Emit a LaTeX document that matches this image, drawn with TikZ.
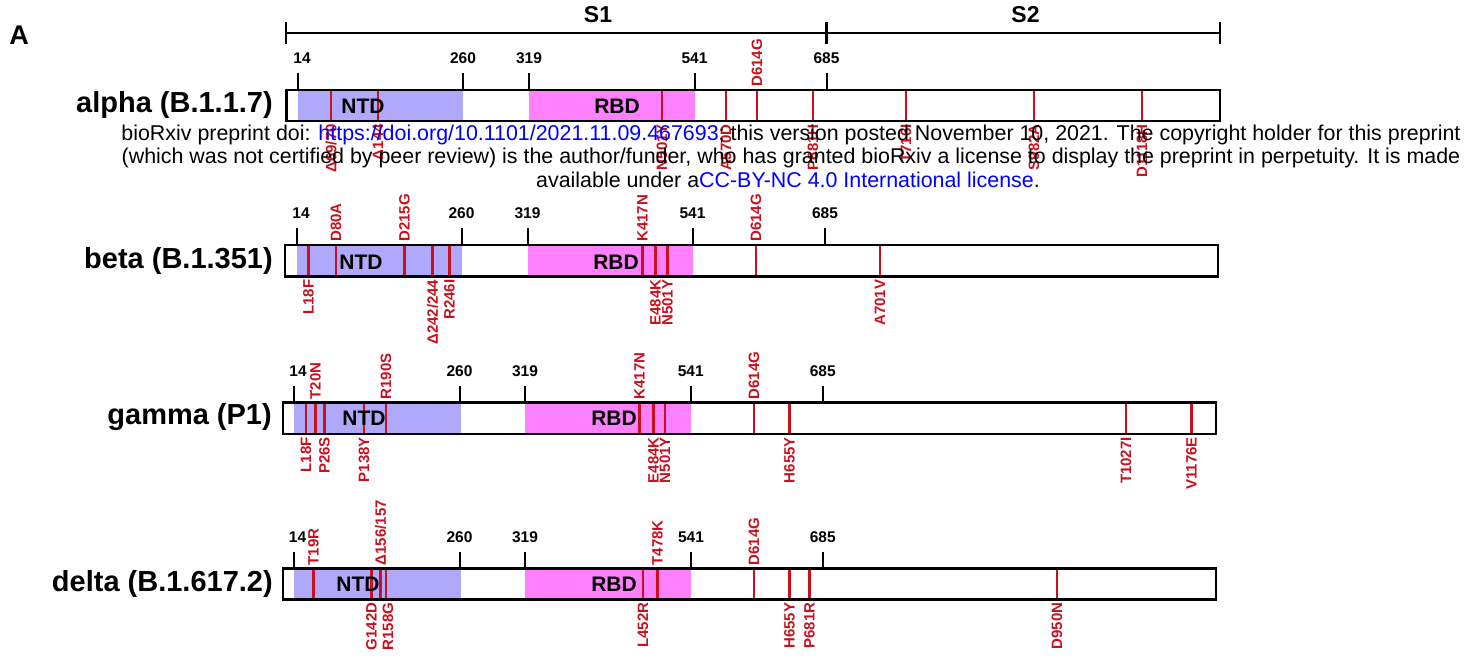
\documentclass[tikz,border=0pt]{standalone}
\usepackage{fontspec}
\setmainfont{Liberation Sans}
\definecolor{ntdc}{RGB}{176,168,250}
\definecolor{rbdc}{RGB}{255,128,255}
\definecolor{mutc}{RGB}{200,16,30}
\definecolor{linkc}{RGB}{0,0,255}
\tikzset{
  barbox/.style={draw=black, line width=2.6pt},
  mutline/.style={draw=mutc, line width=2.4pt},
  tickline/.style={draw=black, line width=2pt},
  ticklbl/.style={font=\fontsize{15.5}{16}\selectfont\bfseries, inner sep=0pt},
  mutup/.style={font=\fontsize{15}{16}\selectfont\bfseries, text=mutc, rotate=90, anchor=west, inner sep=0pt},
  mutdown/.style={font=\fontsize{15}{16}\selectfont\bfseries, text=mutc, rotate=90, anchor=east, inner sep=0pt},
  rowname/.style={font=\fontsize{29}{30}\selectfont\bfseries, anchor=east, inner sep=0pt},
  domlbl/.style={font=\fontsize{21}{22}\selectfont\bfseries, inner sep=0pt},
  seglbl/.style={font=\fontsize{23}{24}\selectfont\bfseries, inner sep=0pt},
  wm/.style={font=\fontsize{21.4}{22}\selectfont, inner sep=0pt},
}
\begin{document}
\begin{tikzpicture}[x=1pt,y=-1pt]
\useasboundingbox (0,0) rectangle (1475,660);

% panel letter
\node[font=\fontsize{27}{28}\selectfont\bfseries, inner sep=0pt] (panelA) at (19,35) {A};

% top S1/S2 scale
\coordinate (sL) at (286,33);
\coordinate (sM) at (826.5,33);
\coordinate (sR) at (1220,33);
\draw[line width=2.4pt] (sL) -- (sR);
\foreach \x in {286,826.5,1220} \draw[line width=2.4pt] (\x,22) -- (\x,44);
\node[seglbl] (S1) at (598,15) {S1};
\node[seglbl] (S2) at (1025.5,15) {S2};

% ================= alpha =================
\node[rowname] (alpha) at (273,105) {alpha (B.1.1.7)};
\fill[ntdc] (298,90) rectangle (463,121);
\fill[rbdc] (529,90) rectangle (694.5,121);
\foreach \x in {331,378,662,726,757,813,906,1034,1142} \draw[mutline] (\x,90) -- (\x,121);
\draw[barbox] (286.5,90) rectangle (1220,121);
\foreach \x/\t/\d in {298/14/4,463/260/0,529/319/0,694.5/541/0,826.5/685/0} {
  \draw[tickline] (\x,90) -- (\x,73);
  \node[ticklbl] (a\t) at (\x+\d,58.5) {\t};
}
\node[domlbl] (aNTD) at (363,106) {NTD};
\node[domlbl] (aRBD) at (617,106) {RBD};
\node[mutup] (aD614G) at (757,87) {D614G};
\node[mutdown] (ad6970) at (331,124) {Δ69/70};
\node[mutdown] (ad144) at (378,124) {Δ144};
\node[mutdown] (aN501Y) at (662,124) {N501Y};
\node[mutdown] (aA570D) at (726,124) {A570D};
\node[mutdown] (aP681H) at (813,124) {P681H};
\node[mutdown] (aT716I) at (906,124) {T716I};
\node[mutdown] (aS982A) at (1034,124) {S982A};
\node[mutdown] (aD1118H) at (1142,124) {D1118H};

% ================= beta =================
\node[rowname] (beta) at (273,261) {beta (B.1.351)};
\fill[ntdc] (297,245) rectangle (462,276.5);
\fill[rbdc] (527.5,245) rectangle (692.5,276.5);
\foreach \x in {308.5,336,404.5,432.5,449.5,642.5,655.5,667.5,756,880} \draw[mutline] (\x,245) -- (\x,276.5);
\draw[barbox] (285,245) rectangle (1218,276.5);
\foreach \x/\t/\d in {297/14/4,461.5/260/0,527.5/319/0,692.5/541/0,825/685/0} {
  \draw[tickline] (\x,245) -- (\x,228);
  \node[ticklbl] (b\t) at (\x+\d,213.5) {\t};
}
\node[domlbl] (bNTD) at (361,262) {NTD};
\node[domlbl] (bRBD) at (616,262) {RBD};
\node[mutup] (bD80A) at (336,242) {D80A};
\node[mutup] (bD215G) at (404.5,242) {D215G};
\node[mutup] (bK417N) at (642.5,242) {K417N};
\node[mutup] (bD614G) at (756,242) {D614G};
\node[mutdown] (bL18F) at (308.5,279.5) {L18F};
\node[mutdown] (bd242) at (432.5,279.5) {Δ242/244};
\node[mutdown] (bR246I) at (449.5,279.5) {R246I};
\node[mutdown] (bE484K) at (655.5,279.5) {E484K};
\node[mutdown] (bN501Y) at (667.5,279.5) {N501Y};
\node[mutdown] (bA701V) at (880,279.5) {A701V};

% ================= gamma =================
\node[rowname] (gamma) at (272,417) {gamma (P1)};
\fill[ntdc] (294,402.5) rectangle (460.5,434);
\fill[rbdc] (525,402.5) rectangle (691,434);
\foreach \x in {306,315.5,324.5,364,386,639.5,653.5,665,754,789.5,1126,1191.5} \draw[mutline] (\x,402.5) -- (\x,434);
\draw[barbox] (283,402.5) rectangle (1216,434);
\foreach \x/\t/\d in {294/14/4,459.5/260/0,525/319/0,690.7/541/0,822.7/685/0} {
  \draw[tickline] (\x,402.5) -- (\x,385.5);
  \node[ticklbl] (g\t) at (\x+\d,371) {\t};
}
\node[domlbl] (gNTD) at (364,418) {NTD};
\node[domlbl] (gRBD) at (614,418) {RBD};
\node[mutup] (gT20N) at (315.5,399.5) {T20N};
\node[mutup] (gR190S) at (386,399.5) {R190S};
\node[mutup] (gK417N) at (639.5,399.5) {K417N};
\node[mutup] (gD614G) at (754,399.5) {D614G};
\node[mutdown] (gL18F) at (306,437) {L18F};
\node[mutdown] (gP26S) at (324.5,437) {P26S};
\node[mutdown] (gP138Y) at (364,437) {P138Y};
\node[mutdown] (gE484K) at (653.5,437) {E484K};
\node[mutdown] (gN501Y) at (665,437) {N501Y};
\node[mutdown] (gH655Y) at (789.5,437) {H655Y};
\node[mutdown] (gT1027I) at (1126,437) {T1027I};
\node[mutdown] (gV1176E) at (1191.5,437) {V1176E};

% ================= delta =================
\node[rowname] (delta) at (273,583.5) {delta (B.1.617.2)};
\fill[ntdc] (293.5,568.5) rectangle (460.5,599.5);
\fill[rbdc] (525,568.5) rectangle (691,599.5);
\foreach \x in {313.5,371.5,380.5,386,643,657.5,754,789.5,809.5,1057} \draw[mutline] (\x,568.5) -- (\x,599.5);
\draw[barbox] (283,568.5) rectangle (1216,599.5);
\foreach \x/\t/\d in {293.5/14/4,459.5/260/0,525/319/0,691/541/0,822.8/685/0} {
  \draw[tickline] (\x,568.5) -- (\x,551.5);
  \node[ticklbl] (d\t) at (\x+\d,537.5) {\t};
}
\node[domlbl] (dNTD) at (358,584) {NTD};
\node[domlbl] (dRBD) at (614,584) {RBD};
\node[mutup] (dT19R) at (313.5,565.5) {T19R};
\node[mutup] (dd156) at (380.5,565.5) {Δ156/157};
\node[mutup] (dT478K) at (657.5,565.5) {T478K};
\node[mutup] (dD614G) at (754,565.5) {D614G};
\node[mutdown] (dG142D) at (371.5,602.5) {G142D};
\node[mutdown] (dR158G) at (388,602.5) {R158G};
\node[mutdown] (dL452R) at (643,602.5) {L452R};
\node[mutdown] (dH655Y) at (789.5,602.5) {H655Y};
\node[mutdown] (dP681R) at (809.5,602.5) {P681R};
\node[mutdown] (dD950N) at (1057,602.5) {D950N};

% ================= watermark =================
\node[wm] (wm1) at (791,135) {bioRxiv preprint doi: \textcolor{linkc}{https://doi.org/10.1101/2021.11.09.467693}; this version posted November 10, 2021. The copyright holder for this preprint};
\node[wm] (wm2) at (791,157.5) {(which was not certified by peer review) is the author/funder, who has granted bioRxiv a license to display the preprint in perpetuity. It is made};
\node[wm] (wm3) at (788,180) {available under a\textcolor{linkc}{CC-BY-NC 4.0 International license}.};
\end{tikzpicture}
\end{document}
